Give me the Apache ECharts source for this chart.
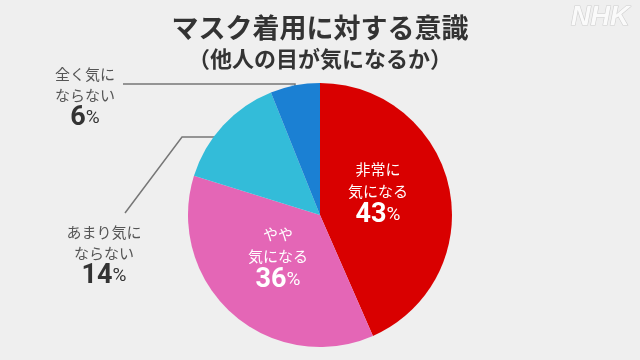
<!DOCTYPE html>
<html><head><meta charset="utf-8">
<script src="https://cdn.jsdelivr.net/npm/echarts@6/dist/echarts.min.js"></script>
<style>html,body{margin:0;padding:0;background:#efefef}#c{width:640px;height:360px}</style>
</head><body><div id="c"></div>
<script>
const categories = ['非常に\n気になる', 'やや\n気になる', 'あまり気に\nならない', '全く気に\nならない'];
const values = [43, 36, 14, 6];
const titleText = 'マスク着用に対する意識';
const subtitleText = '（他人の目が気になるか）';

const colors = ['#d90000', '#e466b6', '#33bcd9', '#1b80d3'];
const inside = [true, true, false, false];
const labelPos = [[378, 193], [278, 258], [104, 255.5], [85, 97.5]];
const linePts = [null, null, [[247, 137], [182, 137], [125, 213]], [[295, 95], [295, 84], [123, 84]]];

const FONT = '"Noto Sans CJK JP", "Noto Sans", sans-serif';
const NUMFONT = 'Roboto, "Noto Sans", sans-serif';
function rich(txt, num, lh) {
  return {
    t: { fontSize: 15, color: txt, lineHeight: lh, fontFamily: FONT },
    n: { fontSize: 27, fontWeight: 'bold', color: num, lineHeight: 26, fontFamily: NUMFONT },
    p: { fontSize: 19, color: num, lineHeight: 26, fontFamily: NUMFONT }
  };
}
const data = categories.map((c, i) => ({
  name: c,
  value: values[i],
  itemStyle: { color: colors[i] },
  label: { rich: inside[i] ? rich('#fff', '#fff', 22) : rich('#555', '#333', 21) },
  labelLine: { show: !inside[i] }
}));

const chart = echarts.init(document.getElementById('c'), null, { renderer: 'canvas' });
chart.setOption({
  backgroundColor: '#efefef',
  animation: false,
  title: [
    { text: titleText, left: 'center', top: 9, textStyle: { fontSize: 27, fontWeight: 'bold', color: '#333', fontFamily: FONT } },
    { text: subtitleText, left: 'center', top: 43, textStyle: { fontSize: 22, fontWeight: 'bold', color: '#333', fontFamily: FONT } }
  ],
  graphic: [{
    type: 'text', right: 10, top: 3,
    style: { text: 'NHK', font: 'italic 900 27px "Liberation Sans", Arial, sans-serif', fill: '#fafafa', stroke: '#cfcfcf', lineWidth: 1.2 }
  }],
  series: [{
    type: 'pie',
    center: [320, 215],
    radius: 132,
    startAngle: 90,
    clockwise: true,
    silent: true,
    data: data,
    label: {
      show: true,
      position: 'outside',
      formatter: p => p.name.split('\n').map(s => '{t|' + s + '}').join('\n') + '\n{n|' + p.value + '}{p|%}',
      align: 'center'
    },
    labelLine: { show: true, lineStyle: { color: '#777', width: 1.5 } },
    labelLayout: function (params) {
      const i = params.dataIndex;
      const r = { x: labelPos[i][0], y: labelPos[i][1], align: 'center', verticalAlign: 'middle' };
      if (linePts[i]) r.labelLinePoints = linePts[i];
      return r;
    }
  }]
});
</script></body></html>
